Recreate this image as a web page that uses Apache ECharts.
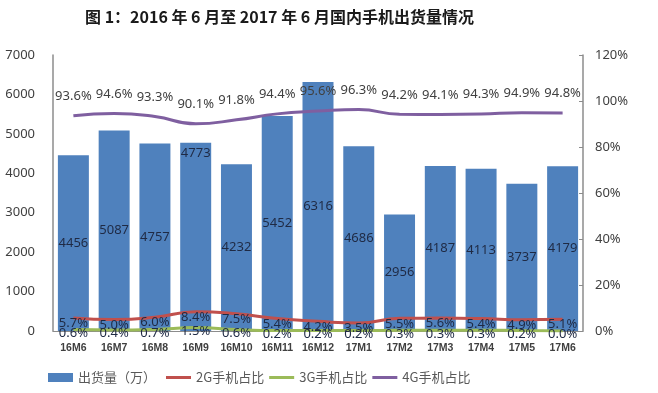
<!DOCTYPE html>
<html><head><meta charset="utf-8">
<script src="https://cdn.jsdelivr.net/npm/echarts@6/dist/echarts.min.js"></script>
<style>html,body{margin:0;padding:0;background:#fff}#c{width:658px;height:393px}</style>
</head><body><div id="c"></div>
<script>
const categories = ['16M6','16M7','16M8','16M9','16M10','16M11','16M12','17M1','17M2','17M3','17M4','17M5','17M6'];
const shipments = [4456,5087,4757,4773,4232,5452,6316,4686,2956,4187,4113,3737,4179];
const share2G = [5.7,5.0,6.0,8.4,7.5,5.4,4.2,3.5,5.5,5.6,5.4,4.9,5.1];
const share3G = [0.6,0.4,0.7,1.5,0.6,0.2,0.2,0.2,0.3,0.3,0.3,0.2,0.0];
const share4G = [93.6,94.6,93.3,90.1,91.8,94.4,95.6,96.3,94.2,94.1,94.3,94.9,94.8];
const leftTicks = {min:0,max:7000,interval:1000};
const rightTicks = {min:0,max:120,interval:20};

const chart = echarts.init(document.getElementById('c'));
const lblFont = 'Noto Sans';
const barData = shipments.map((v,i)=> i===3 ? {value:v,label:{position:'insideTop',distance:4}} : v);
const legendText = {fontFamily:'Noto Sans CJK SC',fontSize:13,color:'#595959'};
function lineSeries(name, data, color, offset, labelColor){
  return {name,type:'line',yAxisIndex:1,data,symbol:'circle',symbolSize:0.01,showSymbol:true,smooth:true,
    lineStyle:{color,width:3},itemStyle:{color},
    label:{show:true,position:'top',offset,fontFamily:lblFont,fontSize:13,color:labelColor,
      formatter:p=>p.value.toFixed(1)+'%'}};
}
chart.setOption({
  animation:false,
  title:{text:'图 1：2016 年 6 月至 2017 年 6 月国内手机出货量情况',left:80,top:4,
    textStyle:{fontFamily:'Noto Sans CJK SC',fontSize:16,fontWeight:'bold',color:'#1a1a1a'}},
  grid:{left:53,right:75,top:55,bottom:62},
  legend:[
    {left:43,top:366,itemWidth:25,itemHeight:9,textStyle:legendText,
      data:[{name:'出货量（万）',icon:'rect'}]},
    {left:161,top:366,itemWidth:25,itemHeight:3,itemGap:5,textStyle:legendText,
      data:[{name:'2G手机占比',icon:'rect'},{name:'3G手机占比',icon:'rect'},{name:'4G手机占比',icon:'rect'}]}
  ],
  xAxis:{type:'category',data:categories,
    axisLine:{lineStyle:{color:'#8c8c8c',width:1}},axisTick:{show:false},
    axisLabel:{fontFamily:'Liberation Sans',fontSize:10.5,fontWeight:'bold',color:'#404040',margin:12,interval:0}},
  yAxis:[
    {type:'value',min:leftTicks.min,max:leftTicks.max,interval:leftTicks.interval,
      splitLine:{show:false},axisLine:{show:true,lineStyle:{color:'#8c8c8c',width:1.5}},axisTick:{show:false},
      axisLabel:{fontFamily:lblFont,fontSize:13,color:'#404040',margin:18,formatter:v=>String(v)}},
    {type:'value',min:rightTicks.min,max:rightTicks.max,interval:rightTicks.interval,position:'right',
      splitLine:{show:false},axisLine:{show:true,lineStyle:{color:'#8c8c8c',width:1.5}},
      axisTick:{show:true,inside:true,length:4,lineStyle:{color:'#8c8c8c'}},
      axisLabel:{fontFamily:lblFont,fontSize:13,color:'#404040',margin:12,formatter:'{value}%'}}
  ],
  series:[
    {name:'出货量（万）',type:'bar',data:barData,barCategoryGap:'24%',
      itemStyle:{color:'#4F81BD'},
      label:{show:true,position:'inside',fontFamily:lblFont,fontSize:13,color:'#1f2a44'}},
    lineSeries('2G手机占比',share2G,'#C0504D',[0,17],'#1f2a44'),
    lineSeries('3G手机占比',share3G,'#9BBB59',[0,15],'#1f2a44'),
    lineSeries('4G手机占比',share4G,'#7F5FA0',[0,-8],'#404040')
  ]
});
</script></body></html>
